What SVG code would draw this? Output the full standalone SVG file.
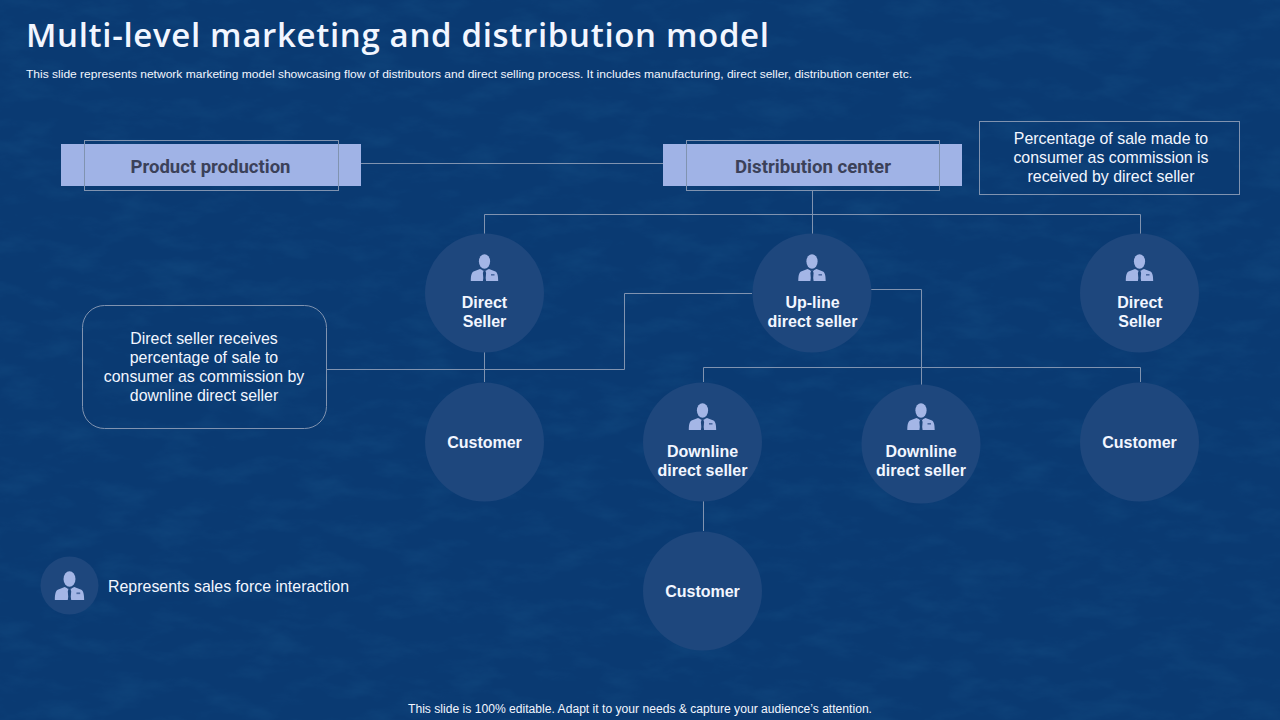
<svg xmlns="http://www.w3.org/2000/svg" xmlns:xlink="http://www.w3.org/1999/xlink" width="1280" height="720" viewBox="0 0 1280 720">
<style>
text{font-family:"Liberation Sans",Arial,sans-serif;fill:#f2f6ff;text-anchor:middle}
.c{fill:#1e477d}
.l{font-size:16px;font-weight:700}
.n{font-size:15.900px}
.w{fill:none;stroke:#8093b0;stroke-width:1}
.b{fill:#a0b3e6}
.bt{font-family:"Roboto",sans-serif;font-size:18px;font-weight:700;fill:#3b4159}
.p{fill:#a4b6e6}
.t{fill:#1e477d}
</style>
<defs>
<filter id="paper" x="0" y="0" width="100%" height="100%">
<feTurbulence type="fractalNoise" baseFrequency="0.02 0.05" numOctaves="5" seed="7"/>
<feColorMatrix values="0 0 0 0 0.02  0 0 0 0 0.16  0 0 0 0 0.36  1.600 0 0 0 -0.700"/>
</filter>
<g id="person">
<ellipse class="p" cx="0" cy="-6.500" rx="5.600" ry="7.300"/>
<path class="p" d="M-4.500 1-11 3.500C-13 4.500-13.700 8-13.700 13H13.700C13.700 8 13 4.500 11 3.500L4.500 1 0 3Z"/>
<path class="t" d="M-2.600 1.400-1 3.200-1.600 5-1.200 10-1.600 13H1.600L1.200 10 1.600 5 1 3.200 2.600 1.400 0 3Z"/>
<rect x="6.500" y="6" width="3.500" height="1.600" fill="#4d6ba3"/>
</g>
</defs>
<rect width="1280" height="720" fill="#0a3a72"/>
<rect width="1280" height="720" filter="url(#paper)" opacity=".22"/>
<g id="header">
<text x="26" y="47" style="font-family:'Open Sans',sans-serif;font-size:33px;text-anchor:start;font-weight:600" textLength="743" lengthAdjust="spacing">Multi-level marketing and distribution model</text>
<text x="26" y="78" style="font-size:11.500px;text-anchor:start" textLength="886" lengthAdjust="spacingAndGlyphs">This slide represents network marketing model showcasing flow of distributors and direct selling process. It includes manufacturing, direct seller, distribution center etc.</text>
</g>
<g id="connectors" class="w">
<path d="M361 163.500H663"/>
<path d="M812.500 190V234"/>
<path d="M484.500 234V214.500H1140.500V234"/>
<path d="M484.500 352V382"/>
<path d="M327 369.500H624.500V293.500H752"/>
<path d="M871 289.500H921.500V385"/>
<path d="M703.500 382V367.500H1140.500V382"/>
<path d="M703.500 501V531"/>
</g>
<g id="product-production">
<rect class="b" x="61" y="144" width="300" height="42"/>
<rect class="w" x="84.500" y="140.500" width="254" height="50"/>
<text class="bt" x="210.500" y="173" textLength="160" lengthAdjust="spacingAndGlyphs">Product production</text>
</g>
<g id="distribution-center">
<rect class="b" x="663" y="144" width="299" height="42"/>
<rect class="w" x="686.500" y="140.500" width="253" height="50"/>
<text class="bt" x="813" y="173" textLength="156" lengthAdjust="spacingAndGlyphs">Distribution center</text>
</g>
<g id="note-commission">
<rect class="w" x="979.500" y="121.500" width="260" height="73"/>
<text class="n" x="1111" y="144">Percentage of sale made to</text>
<text class="n" x="1111" y="163">consumer as commission is</text>
<text class="n" x="1111" y="182">received by direct seller</text>
</g>
<g id="note-downline">
<rect class="w" x="82.500" y="305.500" width="244" height="123" rx="22"/>
<text class="n" x="204" y="344">Direct seller receives</text>
<text class="n" x="204" y="363">percentage of sale to</text>
<text class="n" x="204" y="382">consumer as commission by</text>
<text class="n" x="204" y="401">downline direct seller</text>
</g>
<g id="direct-seller-1">
<circle class="c" cx="484.500" cy="293" r="59.500"/>
<use xlink:href="#person" href="#person" x="484.500" y="268"/>
<text class="l" x="484.500" y="308">Direct</text>
<text class="l" x="484.500" y="327">Seller</text>
</g>
<g id="upline-seller">
<circle class="c" cx="812" cy="293" r="59.500"/>
<use xlink:href="#person" href="#person" x="812" y="268"/>
<text class="l" x="812.500" y="308">Up-line</text>
<text class="l" x="812.500" y="327">direct seller</text>
</g>
<g id="direct-seller-2">
<circle class="c" cx="1139.500" cy="293" r="59.500"/>
<use xlink:href="#person" href="#person" x="1139.500" y="268"/>
<text class="l" x="1140" y="308">Direct</text>
<text class="l" x="1140" y="327">Seller</text>
</g>
<g id="customer-1">
<circle class="c" cx="484.500" cy="442" r="59.500"/>
<text class="l" x="484.500" y="448">Customer</text>
</g>
<g id="downline-seller-1">
<circle class="c" cx="702.500" cy="442" r="59.500"/>
<use xlink:href="#person" href="#person" x="702.500" y="417"/>
<text class="l" x="702.500" y="457">Downline</text>
<text class="l" x="702.500" y="476">direct seller</text>
</g>
<g id="downline-seller-2">
<circle class="c" cx="921" cy="444" r="59.500"/>
<use xlink:href="#person" href="#person" x="921" y="417"/>
<text class="l" x="921" y="457">Downline</text>
<text class="l" x="921" y="476">direct seller</text>
</g>
<g id="customer-2">
<circle class="c" cx="1139.500" cy="442" r="59.500"/>
<text class="l" x="1139.500" y="448">Customer</text>
</g>
<g id="customer-3">
<circle class="c" cx="702.500" cy="591" r="59.500"/>
<text class="l" x="702.500" y="597">Customer</text>
</g>
<g id="legend">
<circle class="c" cx="69.500" cy="585.500" r="29"/>
<use xlink:href="#person" href="#person" transform="translate(69.500 586) scale(1.070)"/>
<text class="n" x="108" y="592" style="text-anchor:start" textLength="241" lengthAdjust="spacing">Represents sales force interaction</text>
</g>
<g id="footer">
<text x="640" y="713" style="font-size:12px" textLength="464" lengthAdjust="spacingAndGlyphs">This slide is 100% editable. Adapt it to your needs &amp; capture your audience’s attention.</text>
</g>
</svg>
